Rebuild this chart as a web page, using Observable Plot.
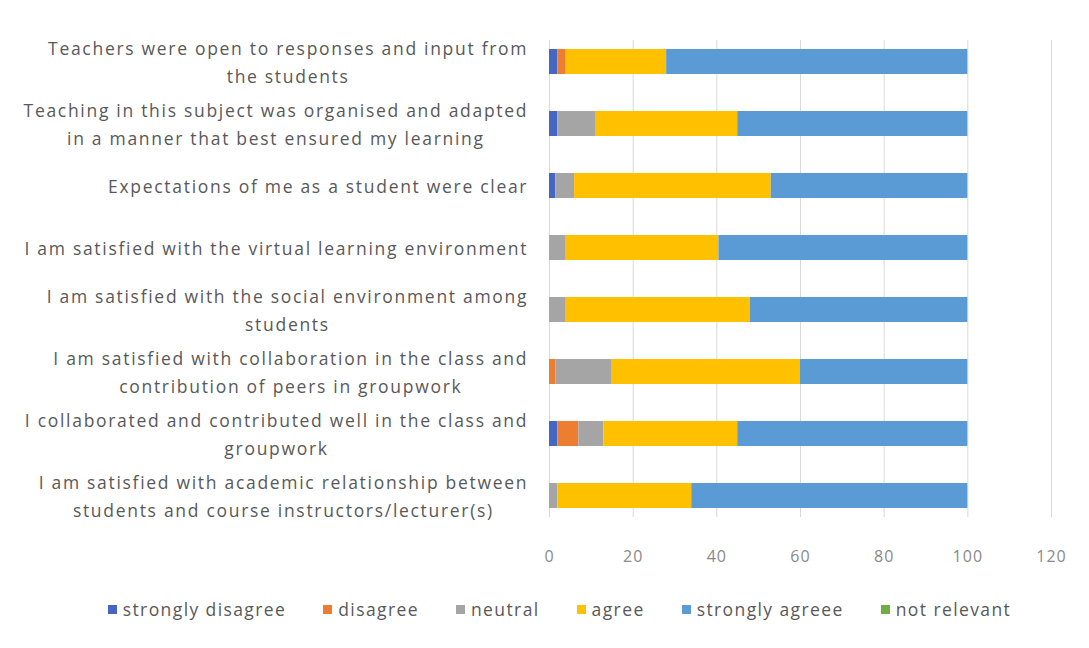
<!DOCTYPE html>
<html>
<head>
<meta charset="utf-8">
<script src="https://cdn.jsdelivr.net/npm/d3@7"></script>
<script src="https://cdn.jsdelivr.net/npm/@observablehq/plot@0.6"></script>
<style>
  body { margin: 0; background: #fff; font-family: "Open Sans", sans-serif; }
  #chart { width: 1089px; }
  .legend { display: flex; justify-content: center; gap: 37px; padding-left: 30px; margin-top: 12px; font-size: 17.5px; letter-spacing: 1.4px; color: #595959; }
  .legend span.item { display: flex; align-items: center; }
  .legend i { display: inline-block; width: 9px; height: 9px; margin-right: 6px; }
  g.ylab text { letter-spacing: 1.7px; }
  g.xlab text { letter-spacing: 1px; }
</style>
</head>
<body>
<div id="chart"></div>
<script>
const categories = [
  "Teachers were open to responses and input from\nthe students",
  "Teaching in this subject was organised and adapted\nin a manner that best ensured my learning",
  "Expectations of me as a student were clear",
  "I am satisfied with the virtual learning environment",
  "I am satisfied with the social environment among\nstudents",
  "I am satisfied with collaboration in the class and\ncontribution of peers in groupwork",
  "I collaborated and contributed well in the class and\ngroupwork",
  "I am satisfied with academic relationship between\nstudents and course instructors/lecturer(s)"
];
const seriesNames = ["strongly disagree", "disagree", "neutral", "agree", "strongly agreee", "not relevant"];
const seriesColors = ["#4467c4", "#ED7D31", "#A5A5A5", "#FFC000", "#5B9BD5", "#70AD47"];
const stronglyDisagree = [2, 2, 1.5, 0, 0, 0, 2, 0];
const disagree        = [2, 0, 0, 0, 0, 1.5, 5, 0];
const neutral         = [0, 9, 4.5, 4, 4, 13.5, 6, 2];
const agree           = [24, 34, 47, 36.5, 44, 45, 32, 32];
const stronglyAgree   = [72, 55, 47, 59.5, 52, 40, 55, 66];
const notRelevant     = [0, 0, 0, 0, 0, 0, 0, 0];
const xTicks = [0, 20, 40, 60, 80, 100, 120];

const seriesValues = [stronglyDisagree, disagree, neutral, agree, stronglyAgree, notRelevant];
const rows = [];
seriesNames.forEach((s, si) => {
  categories.forEach((c, ci) => {
    rows.push({ category: c, series: s, value: seriesValues[si][ci] });
  });
});

// labels: lines centered within a block that is right-aligned against the axis
const labelFont = 17.5;
const labelSpacing = 1.7;
const ctx = document.createElement("canvas").getContext("2d");
ctx.font = `${labelFont}px "Open Sans"`;
function lineWidth(s) { return ctx.measureText(s).width + (s.length - 1) * labelSpacing; }
const labelMarks = categories.map(c => {
  const w = Math.max(...c.split("\n").map(lineWidth));
  return Plot.text([c], {
    y: d => d, text: d => d, frameAnchor: "left", textAnchor: "middle",
    dx: -23 - w / 2 + labelSpacing / 2, dy: -2, fontSize: labelFont, lineHeight: 1.6,
    fill: "#595959", className: "ylab"
  });
});

const plot = Plot.plot({
  width: 1089,
  height: 585,
  marginLeft: 549,
  marginRight: 38,
  marginTop: 40,
  marginBottom: 68,
  style: { fontFamily: "Open Sans, sans-serif", color: "#595959", background: "#fff" },
  x: { domain: [0, 120], ticks: xTicks },
  y: { domain: categories, paddingInner: 0.6, paddingOuter: 0.1, axis: null },
  color: { domain: seriesNames, range: seriesColors },
  marks: [
    Plot.gridX(xTicks, { stroke: "#d9d9d9", strokeOpacity: 1, strokeWidth: 1 }),
    Plot.barX(rows, Plot.stackX({ x: "value", y: "category", fill: "series", order: seriesNames })),
    Plot.axisX({ ticks: xTicks, tickSize: 0, tickPadding: 33, fontSize: 16, label: null, fill: "#8a8a8a", className: "xlab" }),
    ...labelMarks
  ]
});
document.getElementById("chart").appendChild(plot);

const legend = document.createElement("div");
legend.className = "legend";
seriesNames.forEach((s, i) => {
  const it = document.createElement("span");
  it.className = "item";
  it.innerHTML = `<i style="background:${seriesColors[i]}"></i>${s}`;
  legend.appendChild(it);
});
document.getElementById("chart").appendChild(legend);
</script>
</body>
</html>
